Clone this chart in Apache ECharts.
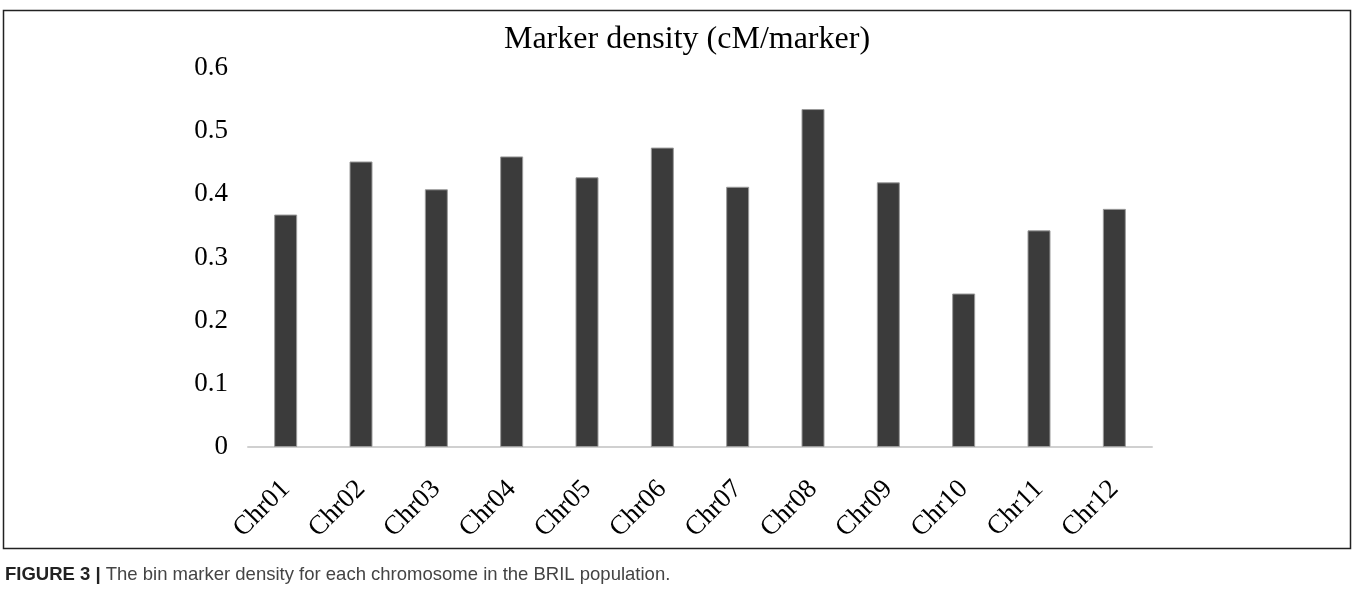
<!DOCTYPE html>
<html>
<head>
<meta charset="utf-8">
<title>Marker density</title>
<script src="https://cdn.jsdelivr.net/npm/echarts@6/dist/echarts.min.js"></script>
<style>
  html, body { margin: 0; padding: 0; background: #fff; }
  #chart { width: 1357px; height: 602px; }
</style>
</head>
<body>
<div id="chart"></div>
<script>
// data
const chromosomes = ['Chr01', 'Chr02', 'Chr03', 'Chr04', 'Chr05', 'Chr06',
                     'Chr07', 'Chr08', 'Chr09', 'Chr10', 'Chr11', 'Chr12']
const density = [0.368, 0.452, 0.408, 0.460, 0.427, 0.474,
                 0.412, 0.535, 0.419, 0.243, 0.343, 0.377]
const yTicks = [0, 0.1, 0.2, 0.3, 0.4, 0.5, 0.6]

const titleText = 'Marker density (cM/marker)'
const captionLabel = 'FIGURE 3 |'
const captionText = ' The bin marker density for each chromosome in the BRIL population.'

const serif = "'Liberation Serif', 'Times New Roman', serif"
const sans = "'Liberation Sans', Arial, sans-serif"

const chart = echarts.init(document.getElementById('chart'), null, { renderer: 'canvas' })

let option = {
  backgroundColor: '#fff',
  animation: false,
  title: {
    text: titleText,
    left: 682,
    textAlign: 'center',
    top: 19,
    textStyle: { fontFamily: serif, fontSize: 32, fontWeight: 'normal', color: '#000' }
  },
  grid: { left: 248, right: 205, top: 68, bottom: 155 },
  xAxis: {
    type: 'category',
    data: chromosomes,
    axisLine: { show: true, lineStyle: { color: '#d0d0d0', width: 2 } },
    axisTick: { show: false },
    axisLabel: {
      rotate: 45,
      margin: 38,
      interval: 0,
      fontFamily: serif,
      fontSize: 27,
      color: '#000'
    }
  },
  yAxis: {
    type: 'value',
    min: yTicks[0],
    max: yTicks[yTicks.length - 1],
    interval: 0.1,
    axisLine: { show: false },
    axisTick: { show: false },
    splitLine: { show: false },
    axisLabel: {
      margin: 20,
      fontFamily: serif,
      fontSize: 27,
      color: '#000',
      formatter: function (v) { return String(Math.round(v * 10) / 10) }
    }
  },
  series: [{
    type: 'bar',
    data: density,
    barWidth: 23,
    itemStyle: { color: '#3b3b3b', borderColor: '#9a9a9a', borderWidth: 1 }
  }],
  graphic: [
    {
      type: 'rect',
      shape: { x: 3.5, y: 10.5, width: 1347, height: 538 },
      style: { fill: 'none', stroke: '#222', lineWidth: 1.5 },
      silent: true
    },
    {
      type: 'text',
      left: 5,
      top: 565,
      style: {
        text: '{b|' + captionLabel + '}{n|' + captionText + '}',
        rich: {
          b: { fontFamily: sans, fontSize: 18.5, fontWeight: 'bold', fill: '#222' },
          n: { fontFamily: sans, fontSize: 18.5, fill: '#444' }
        }
      }
    }
  ]
}

chart.setOption(option)
window.addEventListener('resize', () => { chart.resize() })
</script>
</body>
</html>
